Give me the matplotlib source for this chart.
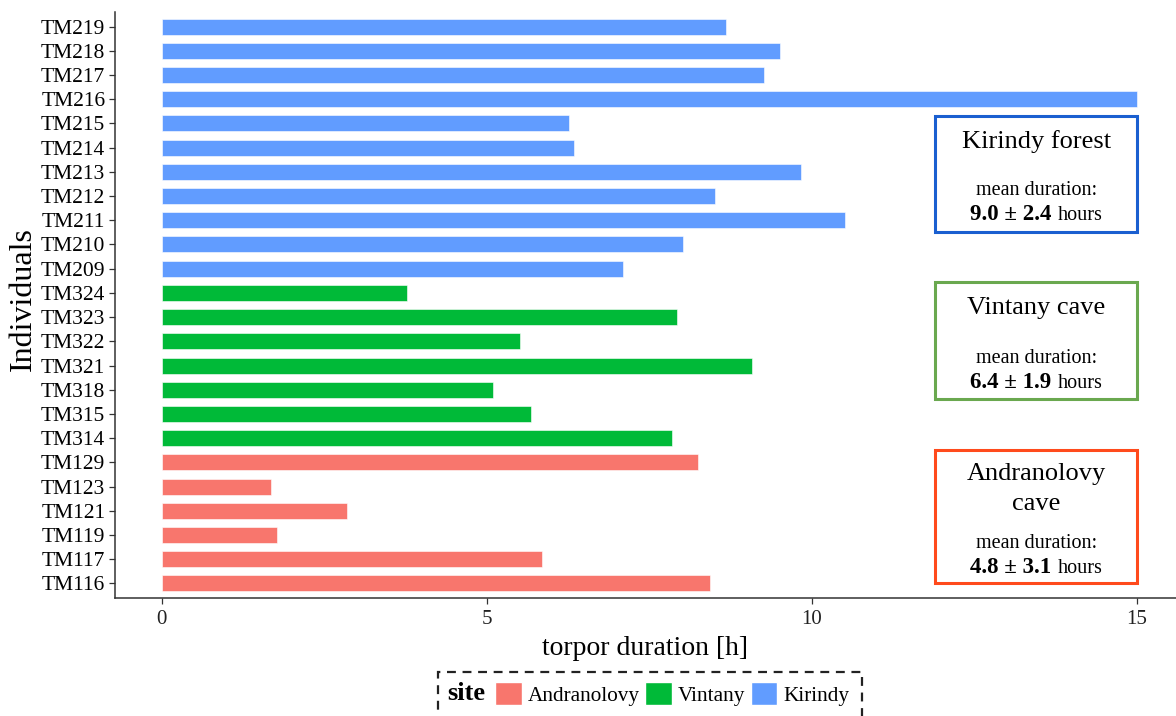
import matplotlib
matplotlib.use("Agg")
import matplotlib.pyplot as plt
from matplotlib.patches import Rectangle, Patch
from matplotlib.offsetbox import TextArea, HPacker, AnnotationBbox

plt.rcParams['font.family'] = ['Liberation Serif', 'DejaVu Serif']

# individuals, bottom to top, with their site and torpor duration [h]
andranolovy_ids = ["TM116", "TM117", "TM119", "TM121", "TM123", "TM129"]
andranolovy_hours = [8.43, 5.85, 1.77, 2.85, 1.68, 8.25]

vintany_ids = ["TM314", "TM315", "TM318", "TM321", "TM322", "TM323", "TM324"]
vintany_hours = [7.85, 5.68, 5.09, 9.08, 5.51, 7.92, 3.77]

kirindy_ids = ["TM209", "TM210", "TM211", "TM212", "TM213", "TM214",
               "TM215", "TM216", "TM217", "TM218", "TM219"]
kirindy_hours = [7.09, 8.02, 10.51, 8.51, 9.83, 6.34, 6.26, 15.0, 9.26, 9.51, 8.68]

sites = ["Andranolovy", "Vintany", "Kirindy"]
site_colors = ["#F8766D", "#00BA38", "#619CFF"]

x_ticks = [0, 5, 10, 15]

# summary boxes: title, mean, sd, border colour, (y bottom, y top) in bar units
box_titles = ["Andranolovy\ncave", "Vintany cave", "Kirindy forest"]
box_means = [4.8, 6.4, 9.0]
box_sds = [3.1, 1.9, 2.4]
box_edges = ["#FF4A1C", "#6AA84F", "#1A5FD0"]
box_spans = [(0.04, 5.53), (7.6, 12.43), (14.53, 19.32)]

fig = plt.figure(figsize=(11.76, 7.16), dpi=100)
ax = fig.add_axes([115 / 1176, 1 - 598 / 716, 1 - 115 / 1176, (598 - 12) / 716])

groups = [(andranolovy_ids, andranolovy_hours),
          (vintany_ids, vintany_hours),
          (kirindy_ids, kirindy_hours)]
labels = []
pos = 0
for (ids, hours), col in zip(groups, site_colors):
    ys = list(range(pos, pos + len(ids)))
    ax.barh(ys, hours, height=0.66, color=col, edgecolor='white', linewidth=0.4)
    labels += ids
    pos += len(ids)

ax.set_yticks(range(len(labels)))
ax.set_yticklabels(labels, fontsize=15.5)
ax.set_ylim(-0.6, len(labels) - 0.4)
ax.set_xlim(-0.72, 15.6)
ax.set_xticks(x_ticks)
ax.set_xticklabels([str(t) for t in x_ticks], fontsize=15)

ax.spines['top'].set_visible(False)
ax.spines['right'].set_visible(False)
for s in ['left', 'bottom']:
    ax.spines[s].set_color('#333333')
    ax.spines[s].set_linewidth(1.1)
ax.tick_params(colors='#333333', length=4, width=0.9)
ax.tick_params(axis='y', labelcolor='black', pad=3)
ax.tick_params(axis='x', labelcolor='#222222', pad=5)

ax.set_xlabel("torpor duration [h]", fontsize=20, labelpad=5)
ax.set_ylabel("Individuals", fontsize=23, labelpad=2)
ax.yaxis.set_label_coords(-0.073, 0.51)

# summary boxes
for title, m, sd, ec, (y0, y1) in zip(box_titles, box_means, box_sds, box_edges, box_spans):
    ax.add_patch(Rectangle((11.9, y0), 15.0 - 11.9, y1 - y0, fill=False,
                           edgecolor=ec, linewidth=2.2, zorder=3))
    xc = 13.45
    if "\n" in title:
        ax.text(xc, y1 - 0.55, title, ha='center', va='top', fontsize=19,
                linespacing=1.5)
        y_mean, y_val = y0 + 1.6, y0 + 0.6
    else:
        ax.text(xc, y1 - 1.05, title, ha='center', va='center', fontsize=19)
        y_mean, y_val = y0 + 1.7, y0 + 0.7
    ax.text(xc, y_mean, "mean duration:", ha='center', va='center', fontsize=14.5)
    bold = TextArea(f"{m:.1f} ± {sd:.1f}", textprops=dict(fontsize=16.5, fontweight='bold'))
    reg = TextArea("hours", textprops=dict(fontsize=14.5))
    pack = HPacker(children=[bold, reg], align='baseline', pad=0, sep=5)
    ab = AnnotationBbox(pack, (xc, y_val), frameon=False, box_alignment=(0.5, 0.5))
    ax.add_artist(ab)

# legend at the bottom with dashed frame
fig.patches.append(Rectangle((438 / 1176, -0.02), 424 / 1176, 0.02 + 1 - 672 / 716,
                             transform=fig.transFigure, fill=False, edgecolor='#222222',
                             linestyle=(0, (4, 3)), linewidth=1.6))
fig.text(447 / 1176, 1 - 694 / 716, "site", fontsize=19, fontweight='bold',
         ha='left', va='center')
handles = [Patch(facecolor=c, edgecolor='white') for c in site_colors]
fig.legend(handles, sites, loc='center left', bbox_to_anchor=(495 / 1176, 1 - 694 / 716),
           ncol=3, frameon=False, fontsize=15.3, handlelength=1.25, handleheight=1.3,
           handletextpad=0.3, columnspacing=0.25, borderpad=0, borderaxespad=0)

fig.savefig("out.png", dpi=100)
